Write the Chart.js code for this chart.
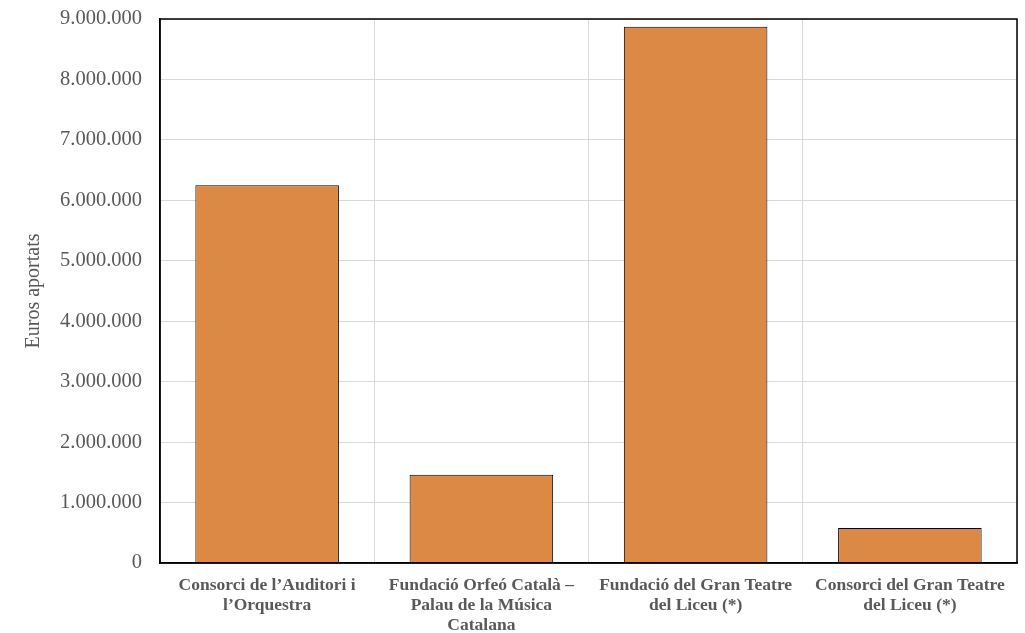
<!DOCTYPE html>
<html>
<head>
<meta charset="utf-8">
<script src="https://cdn.jsdelivr.net/npm/chart.js@4"></script>
<style>
  html, body { margin: 0; padding: 0; background: #fff; }
  #wrap { width: 1025px; height: 633px; }
</style>
</head>
<body>
<div id="wrap"><canvas id="aportChart" width="1025" height="633"></canvas></div>
<script>
// Aportacions per entitat
const categories = [
  ["Consorci de l\u2019Auditori i", "l\u2019Orquestra"],
  ["Fundació Orfeó Català \u2013", "Palau de la Música", "Catalana"],
  ["Fundació del Gran Teatre", "del Liceu (*)"],
  ["Consorci del Gran Teatre", "del Liceu (*)"]
];
const euros = [6250000, 1460000, 8870000, 580000];
const yMax = 9000000;
const yStep = 1000000;

// punts com a separador de milers
function fmt(v) {
  return String(v).replace(/\B(?=(\d{3})+(?!\d))/g, ".");
}

// marc de l'àrea del gràfic
const frame = {
  id: 'frame',
  afterDraw(chart) {
    const { ctx, chartArea: a } = chart;
    ctx.save();
    ctx.strokeStyle = '#000';
    ctx.lineWidth = 1.5;
    ctx.strokeRect(a.left, a.top, a.right - a.left, a.bottom - a.top);
    ctx.restore();
  }
};

const ctx = document.getElementById('aportChart').getContext('2d');
const chart = new Chart(ctx, {
  type: 'bar',
  data: {
    labels: categories,
    datasets: [{
      data: euros,
      backgroundColor: '#dc8945',
      borderColor: '#000',
      borderWidth: 1,
      barPercentage: 0.67,
      categoryPercentage: 1
    }]
  },
  options: {
    responsive: false,
    animation: false,
    layout: { padding: { top: 19, right: 8, left: 22, bottom: 0 } },
    plugins: {
      legend: { display: false },
      tooltip: { enabled: false }
    },
    scales: {
      x: {
        grid: { color: '#d9d9d9', drawTicks: false, offset: true },
        border: { color: '#000', width: 1.5 },
        ticks: {
          color: '#595959',
          padding: 12,
          maxRotation: 0,
          autoSkip: false,
          font: { family: 'Liberation Serif', size: 17.5, weight: 'bold', lineHeight: 1.15 }
        },
        afterFit(s) { s.height = 70; s.paddingLeft = 0; s.paddingRight = 0; }
      },
      y: {
        min: 0,
        max: yMax,
        grid: { color: '#d9d9d9', drawTicks: false },
        border: { color: '#000', width: 1.5 },
        ticks: {
          stepSize: yStep,
          color: '#595959',
          padding: 18,
          font: { family: 'Liberation Serif', size: 20.5 },
          callback: v => fmt(v)
        },
        title: {
          display: true,
          text: 'Euros aportats',
          color: '#595959',
          padding: { top: 0, bottom: 0 },
          font: { family: 'Liberation Serif', size: 20 }
        },
        afterFit(s) { s.width = 138; s.paddingTop = 0; s.paddingBottom = 0; }
      }
    }
  },
  plugins: [frame]
});
</script>
</body>
</html>
